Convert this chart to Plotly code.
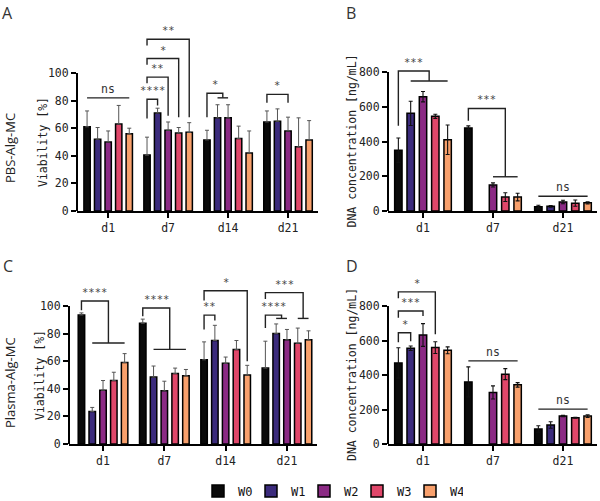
import plotly.graph_objects as go

# ---------------- data ----------------
series = ["W0", "W1", "W2", "W3", "W4"]
colors = ["#0a0a0a", "#3b2b7c", "#8b2a84", "#e0476a", "#f8a06c"]

viab_days = ["d1", "d7", "d14", "d21"]
dna_days = ["d1", "d7", "d21"]

# A: PBS-Alg-MC viability [%]  (rows = W0..W4, cols = d1,d7,d14,d21)
pbs_viab_mean = [
    [61, 40.5, 51.5, 64.5],
    [52, 71, 67.5, 65],
    [50, 58.5, 67.5, 58],
    [63, 56.5, 52.5, 46.5],
    [56, 57, 42, 51.5],
]
pbs_viab_sd = [
    [11.5, 13, 7, 8],
    [8.5, 3.5, 9.5, 9],
    [8, 6, 9.5, 10],
    [13.5, 4, 9, 21],
    [4, 7, 16, 14],
]
# B: PBS-Alg-MC DNA [ng/mL] (cols = d1,d7,d21)
pbs_dna_mean = [
    [350, 478, 25],
    [562, None, 27],
    [658, 150, 52],
    [545, 80, 45],
    [410, 80, 47],
]
pbs_dna_sd = [
    [70, 12, 8],
    [70, None, 5],
    [30, 12, 10],
    [12, 25, 18],
    [85, 22, 6],
]
# C: Plasma-Alg-MC viability [%]
plasma_viab_mean = [
    [93.5, 87.5, 61, 55],
    [23.5, 48.5, 75, 80],
    [39, 38.5, 58.5, 75.5],
    [46, 51, 68.5, 73],
    [59, 49.5, 50, 75.5],
]
plasma_viab_sd = [
    [1.5, 3, 13, 19.5],
    [3, 8, 11, 7],
    [7, 7, 4.5, 7.5],
    [6, 4, 6.5, 11],
    [6.5, 4.5, 7, 6.5],
]
# D: Plasma-Alg-MC DNA [ng/mL]
plasma_dna_mean = [
    [470, 360, 87],
    [555, None, 110],
    [632, 299, 162],
    [559, 405, 152],
    [543, 343, 162],
]
plasma_dna_sd = [
    [88, 87, 19],
    [13, None, 19],
    [66, 38, 4],
    [34, 32, 3],
    [20, 13, 8],
]

# significance annotations: (label, group, first, second, top, left_bottom, right_bottom)
A_brackets = [
    ("****", 1, 0, 1, 81, 67, 76.5),
    ("**", 1, 0, 2, 97, 92.5, 69),
    ("*", 1, 0, 3, 110.5, 106, 68),
    ("**", 1, 0, 4, 124.5, 120, 68),
    ("*", 3, 0, 2, 84.5, 78.5, 78.5),
]
# fan brackets: (label, group, ref, from, to, top, left_bottom, crossbar)
A_fans = [("*", 2, 0, 1, 2, 85.3, 68, 82)]
A_lines = [("ns", 0, 0, 4, 82)]

B_fans = [("***", 0, 0, 1, 4, 806, 490, 748), ("***", 1, 0, 2, 4, 590, 520, 197)]
B_lines = [("ns", 2, 0, 4, 85)]

C_brackets = [
    ("**", 2, 0, 1, 93.4, 83, 89.5),
    ("*", 2, 0, 4, 111, 104, 60),
]
C_fans = [
    ("****", 0, 0, 1, 4, 103.6, 97, 73.2),
    ("****", 1, 0, 1, 4, 98.5, 92.5, 68.6),
    ("****", 3, 0, 1, 2, 93.4, 84, 91),
    ("***", 3, 0, 3, 4, 109.7, 105, 91),
]

D_brackets = [
    ("*", 0, 0, 1, 645, 590, 595),
    ("***", 0, 0, 2, 771, 732, 742),
    ("*", 0, 0, 3, 882, 845, 636),
]
D_lines = [("ns", 1, 0, 4, 482), ("ns", 2, 0, 4, 202)]

# ---------------- figure ----------------
BARGAP = 0.12
BARGROUPGAP = 0.4
NS = len(series)
SLOT = (1 - BARGAP) / NS
MONO = "DejaVu Sans Mono"
SANS = "Open Sans"


def bx(g, s):
    return g + (s - (NS - 1) / 2) * SLOT


fig = go.Figure()

panels = [
    ("x", "y", viab_days, pbs_viab_mean, pbs_viab_sd, False),
    ("x2", "y2", dna_days, pbs_dna_mean, pbs_dna_sd, True),
    ("x3", "y3", viab_days, plasma_viab_mean, plasma_viab_sd, False),
    ("x4", "y4", dna_days, plasma_dna_mean, plasma_dna_sd, True),
]

for pi, (xa, ya, days, means, sds, sym) in enumerate(panels):
    for si, name in enumerate(series):
        m = means[si]
        sd = sds[si]
        if sym:
            err = dict(type="data", array=sd, symmetric=True, color="#111111",
                       thickness=1.1, width=2)
        else:
            err = dict(type="data", array=sd, arrayminus=[0] * len(sd), symmetric=False,
                       color="#555555", thickness=1, width=2)
        fig.add_trace(go.Bar(
            x=days, y=m, name=name, xaxis=xa, yaxis=ya,
            marker=dict(color=colors[si], line=dict(color="#000000", width=1.5)),
            error_y=err, legendgroup=name, showlegend=(pi == 0),
        ))

shapes = []
annotations = []
LINE = dict(color="#222222", width=1.4)
STAR_FONT = dict(family=MONO, size=10.5, color="#444444")
NS_FONT = dict(family=MONO, size=11.5, color="#333333")


def add_text(xa, ya, x, y, text, font):
    annotations.append(dict(x=x, y=y, xref=xa, yref=ya, text=text, showarrow=False,
                            font=font, yanchor="bottom", yshift=1 if text != "ns" else 0))


def add_bracket(xa, ya, b):
    label, g, s1, s2, top, lb, rb = b
    x1, x2 = bx(g, s1), bx(g, s2)
    shapes.append(dict(type="path", xref=xa, yref=ya, line=LINE,
                       path=f"M{x1},{lb} L{x1},{top} L{x2},{top} L{x2},{rb}"))
    add_text(xa, ya, (x1 + x2) / 2, top, label, STAR_FONT)


def add_fan(xa, ya, f):
    label, g, s0, sa, sb, top, lb, cross = f
    x0 = bx(g, s0)
    xa_, xb_ = bx(g, sa), bx(g, sb)
    xm = (xa_ + xb_) / 2
    shapes.append(dict(type="path", xref=xa, yref=ya, line=LINE,
                       path=f"M{x0},{lb} L{x0},{top} L{xm},{top} L{xm},{cross}"))
    shapes.append(dict(type="line", xref=xa, yref=ya, line=LINE,
                       x0=xa_, x1=xb_, y0=cross, y1=cross))
    add_text(xa, ya, (x0 + xm) / 2, top, label, STAR_FONT)


def add_line(xa, ya, l):
    label, g, sa, sb, y = l
    shapes.append(dict(type="line", xref=xa, yref=ya, line=LINE,
                       x0=bx(g, sa), x1=bx(g, sb), y0=y, y1=y))
    add_text(xa, ya, (bx(g, sa) + bx(g, sb)) / 2, y, label, NS_FONT)


for b in A_brackets:
    add_bracket("x", "y", b)
for f in A_fans:
    add_fan("x", "y", f)
for l in A_lines:
    add_line("x", "y", l)
for f in B_fans:
    add_fan("x2", "y2", f)
for l in B_lines:
    add_line("x2", "y2", l)
for b in C_brackets:
    add_bracket("x3", "y3", b)
for f in C_fans:
    add_fan("x3", "y3", f)
for b in D_brackets:
    add_bracket("x4", "y4", b)
for l in D_lines:
    add_line("x4", "y4", l)

# y-axis lines only over the tick range
for xa, ya, top in [("x", "y", 100), ("x2", "y2", 800), ("x3", "y3", 100), ("x4", "y4", 800)]:
    shapes.append(dict(type="line", xref=f"{xa} domain", yref=ya, x0=0, x1=0, y0=0, y1=top,
                       line=dict(color="#000000", width=2)))

W, H = 600, 501


def px_x(p):
    return p / W


def px_y(p):
    return 1 - p / H


# panel letters
for letter, x, y in [("A", 7.5, 0), ("B", 351, 0), ("C", 7.5, 253), ("D", 352, 253)]:
    annotations.append(dict(x=px_x(x), y=px_y(y), xref="paper", yref="paper", text=letter,
                            showarrow=False, font=dict(family=SANS, size=16, color="#333333"),
                            xanchor="center", yanchor="top"))
# row titles
for t, x, y in [("PBS-Alg-MC", 10, 148), ("Plasma-Alg-MC", 10, 383)]:
    annotations.append(dict(x=px_x(x), y=px_y(y), xref="paper", yref="paper", text=t,
                            textangle=-90, showarrow=False,
                            font=dict(family=SANS, size=13, color="#222222"),
                            xanchor="center", yanchor="middle"))
# y axis titles
for t, x, ya, yv in [("Viability [%]", 43, "y", 50), ("DNA concentration [ng/mL]", 352, "y2", 400),
                     ("Viability [%]", 40, "y3", 50), ("DNA concentration [ng/mL]", 352, "y4", 400)]:
    annotations.append(dict(x=px_x(x), y=yv, xref="paper", yref=ya, text=t, textangle=-90,
                            showarrow=False, font=dict(family=MONO, size=11.5, color="#222222"),
                            xanchor="center", yanchor="middle"))


def xaxis(domain, rng):
    return dict(domain=domain, range=rng, type="category", showline=True, linewidth=2,
                linecolor="#000000", ticks="outside", ticklen=5, tickwidth=1.5,
                tickcolor="#000000", showgrid=False, zeroline=False, automargin=False,
                tickfont=dict(family=MONO, size=11.5, color="#222222"), fixedrange=True)


def yaxis(domain, rng, tickvals, anchor):
    return dict(domain=domain, range=rng, showline=False, ticks="outside", ticklen=5,
                tickwidth=1.5, tickcolor="#000000", tickvals=tickvals, showgrid=False,
                zeroline=False, anchor=anchor, automargin=False,
                tickfont=dict(family=MONO, size=11.5, color="#222222"))


fig.update_layout(
    width=W, height=H, autosize=False,
    margin=dict(l=0, r=0, t=0, b=0, autoexpand=False),
    paper_bgcolor="white", plot_bgcolor="white",
    barmode="group", bargap=BARGAP, bargroupgap=BARGROUPGAP,
    font=dict(family=MONO, size=11.5, color="#222222"),
    xaxis=dict(**xaxis([px_x(77), px_x(318)], [-0.52, 3.5]), anchor="y"),
    yaxis=yaxis([px_y(211), px_y(20)], [0, (211 - 20) / 1.38], [0, 20, 40, 60, 80, 100], "x"),
    xaxis2=dict(**xaxis([px_x(388), px_x(597)], [-0.5, 2.486]), anchor="y2"),
    yaxis2=yaxis([px_y(211), px_y(20)], [0, (211 - 20) / 0.17374], [0, 200, 400, 600, 800], "x2"),
    xaxis3=dict(**xaxis([px_x(69), px_x(317)], [-0.555, 3.49]), anchor="y3"),
    yaxis3=yaxis([px_y(444), px_y(250)], [0, (444 - 250) / 1.38], [0, 20, 40, 60, 80, 100], "x3"),
    xaxis4=dict(**xaxis([px_x(388), px_x(597)], [-0.5, 2.486]), anchor="y4"),
    yaxis4=yaxis([px_y(444), px_y(250)], [0, (444 - 250) / 0.1725], [0, 200, 400, 600, 800], "x4"),
    shapes=shapes, annotations=annotations,
    legend=dict(orientation="h", x=px_x(198), y=-0.009, xanchor="left", yanchor="bottom",
                entrywidth=8, entrywidthmode="pixels", bgcolor="rgba(0,0,0,0)",
                borderwidth=0, font=dict(family=MONO, size=12, color="#111111"),
                traceorder="normal"),
    showlegend=True,
)

fig.write_html("out.html", config={"displayModeBar": False},
               post_script="document.body.style.margin='0px';document.body.style.overflow='hidden';")
